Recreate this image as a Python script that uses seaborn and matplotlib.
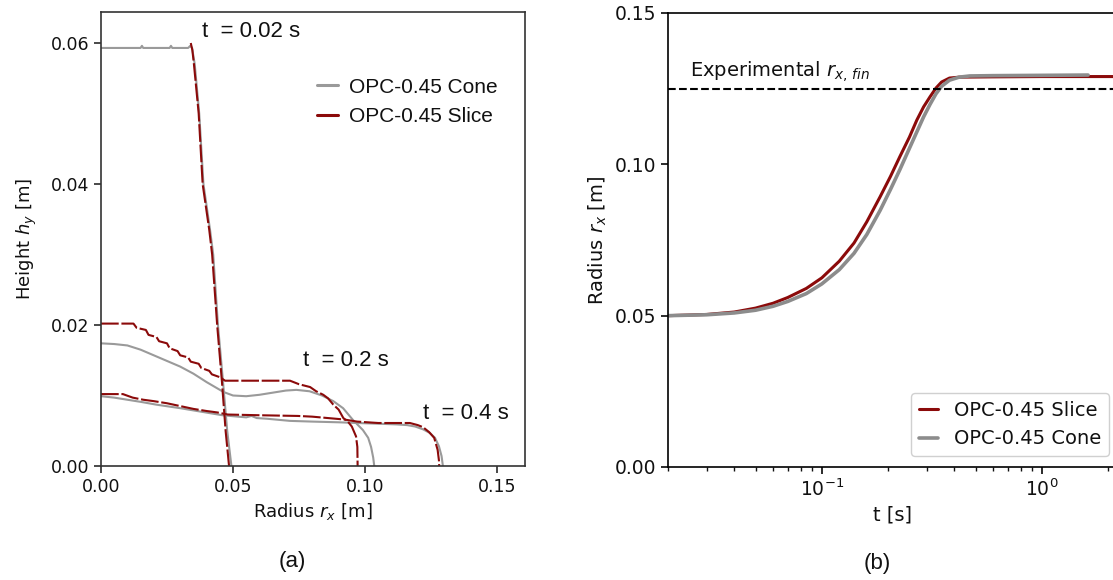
import numpy as np
import pandas as pd
import seaborn as sns
import matplotlib.pyplot as plt

# --- (a) free-surface profiles, radius r_x [m] vs height h_y [m] ---
cone_002_r = [0.000, 0.015, 0.0155, 0.016, 0.026, 0.0265, 0.027, 0.033, 0.0338, 0.0345,
              0.0355, 0.0372, 0.0388, 0.0413, 0.0425, 0.0443, 0.0462, 0.0478, 0.0494]
cone_002_h = [0.0593, 0.0593, 0.0596, 0.0593, 0.0593, 0.0596, 0.0593, 0.0593, 0.0596, 0.0593,
              0.0570, 0.0500, 0.0400, 0.0335, 0.0300, 0.0200, 0.0120, 0.0050, 0.0000]
slice_002_r = [0.0340, 0.0346, 0.0352, 0.0370, 0.0385, 0.0410, 0.0421, 0.0440, 0.0458, 0.0472, 0.0485]
slice_002_h = [0.0600, 0.0590, 0.0570, 0.0500, 0.0400, 0.0335, 0.0300, 0.0200, 0.0120, 0.0050, 0.0000]

cone_02_r = [0.000, 0.005, 0.010, 0.015, 0.020, 0.025, 0.030, 0.035, 0.040, 0.0464, 0.050, 0.055, 0.060,
             0.065, 0.070, 0.074, 0.079, 0.0837, 0.0880, 0.0917, 0.0955, 0.0992, 0.1012, 0.1023, 0.1031, 0.1035]
cone_02_h = [0.0174, 0.0173, 0.0171, 0.0165, 0.0157, 0.0149, 0.0141, 0.0131, 0.0119, 0.0105, 0.0100, 0.0099,
             0.0101, 0.0104, 0.0107, 0.0108, 0.0106, 0.0100, 0.0092, 0.0082, 0.0065, 0.0051, 0.0040, 0.0027,
             0.0012, 0.0000]
slice_02_r = [0.000, 0.0123, 0.0135, 0.017, 0.018, 0.021, 0.022, 0.025, 0.026, 0.029, 0.030, 0.033, 0.034,
              0.037, 0.038, 0.041, 0.042, 0.045, 0.047, 0.0716, 0.0750, 0.0792, 0.0815, 0.0842, 0.086, 0.088,
              0.0900, 0.0918, 0.0935, 0.0950, 0.0966, 0.0971, 0.0972]
slice_02_h = [0.0202, 0.0202, 0.0196, 0.0193, 0.0186, 0.0183, 0.0177, 0.0174, 0.0167, 0.0163, 0.0157, 0.0154,
              0.0148, 0.0145, 0.0139, 0.0135, 0.0130, 0.0126, 0.0121, 0.0121, 0.0116, 0.0112, 0.0106, 0.0101,
              0.0096, 0.0087, 0.0080, 0.0068, 0.0063, 0.0056, 0.0042, 0.0027, 0.0000]

cone_04_r = [0.000, 0.005, 0.010, 0.015, 0.021, 0.030, 0.038, 0.046, 0.055, 0.057, 0.059, 0.063, 0.0716, 0.080,
             0.090, 0.097, 0.105, 0.112, 0.116, 0.119, 0.122, 0.1245, 0.1265, 0.128, 0.129, 0.1295]
cone_04_h = [0.0099, 0.0097, 0.0094, 0.0091, 0.0087, 0.0082, 0.0077, 0.0072, 0.0069, 0.0071, 0.0068, 0.0067,
             0.0064, 0.0063, 0.0062, 0.0061, 0.0060, 0.0059, 0.0058, 0.0056, 0.0052, 0.0047, 0.0040, 0.0028,
             0.0014, 0.0000]
slice_04_r = [0.000, 0.0083, 0.012, 0.016, 0.020, 0.025, 0.030, 0.035, 0.040, 0.044, 0.048, 0.060, 0.0746,
              0.080, 0.086, 0.092, 0.097, 0.105, 0.117, 0.120, 0.122, 0.1243, 0.1262, 0.1275, 0.128, 0.1281]
slice_04_h = [0.0102, 0.0102, 0.0097, 0.0094, 0.0092, 0.0089, 0.0085, 0.0081, 0.0078, 0.0076, 0.0073, 0.0072,
              0.0071, 0.0070, 0.0068, 0.0066, 0.0063, 0.0061, 0.0061, 0.0058, 0.0055, 0.0048, 0.0040, 0.0023,
              0.0008, 0.0000]

# --- (b) spread radius vs time ---
t_slice = [0.02, 0.03, 0.04, 0.05, 0.06, 0.07, 0.085, 0.10, 0.12, 0.14, 0.16, 0.184, 0.205, 0.226, 0.25,
           0.27, 0.29, 0.31, 0.33, 0.35, 0.38, 0.42, 0.60, 1.0, 1.5, 2.3]
r_slice = [0.0500, 0.0504, 0.0512, 0.0525, 0.0541, 0.0560, 0.0590, 0.0625, 0.0680, 0.0740, 0.0810, 0.0893,
           0.0960, 0.1025, 0.1090, 0.1146, 0.1190, 0.1223, 0.1252, 0.1272, 0.1285, 0.1288, 0.1289, 0.1290,
           0.1290, 0.1290]
t_cone = [0.02, 0.03, 0.04, 0.05, 0.06, 0.07, 0.085, 0.10, 0.12, 0.14, 0.16, 0.184, 0.205, 0.226, 0.25,
          0.27, 0.29, 0.31, 0.33, 0.35, 0.38, 0.42, 0.47, 0.60, 1.0, 1.62]
r_cone = [0.0500, 0.0503, 0.0509, 0.0518, 0.0531, 0.0547, 0.0573, 0.0605, 0.0652, 0.0706, 0.0768, 0.0848,
          0.0917, 0.0982, 0.1053, 0.1107, 0.1157, 0.1198, 0.1233, 0.1258, 0.1278, 0.1288, 0.1292, 0.1293,
          0.1294, 0.1295]
r_exp = 0.125

RED = '#8b0a0a'
sns.set_theme(style='ticks')
plt.rcParams['font.family'] = ['DejaVu Sans']
plt.rcParams.update({'text.color': '#111111', 'axes.labelcolor': '#111111',
                     'xtick.color': '#111111', 'ytick.color': '#111111'})

fig = plt.figure(figsize=(11.13, 5.8), dpi=100)
W, H = 1113, 580
ax1 = fig.add_axes([101 / W, 1 - 466 / H, 424 / W, 454 / H])
ax2 = fig.add_axes([668 / W, 1 - 467 / H, 448 / W, 454 / H])

# panel (a)
profiles = [
    (cone_002_r, cone_002_h, slice_002_r, slice_002_h),
    (cone_02_r, cone_02_h, slice_02_r, slice_02_h),
    (cone_04_r, cone_04_h, slice_04_r, slice_04_h),
]
for i, (cr, ch, sr, sh) in enumerate(profiles):
    sns.lineplot(x=cr, y=ch, ax=ax1, sort=False, estimator=None, color='#9a9a9a', lw=1.5,
                 label='OPC-0.45 Cone' if i == 0 else None)
for i, (cr, ch, sr, sh) in enumerate(profiles):
    sns.lineplot(x=sr, y=sh, ax=ax1, sort=False, estimator=None, color=RED, lw=1.5,
                 linestyle=(0, (8.5, 1.3)), label='OPC-0.45 Slice' if i == 0 else None)

ax1.set_xlim(0, 0.1606)
ax1.set_ylim(0, 0.0644)
ax1.set_xticks([0, 0.05, 0.10, 0.15])
ax1.set_yticks([0, 0.02, 0.04, 0.06])
ax1.tick_params(labelsize=12.5, length=5, color='#333333')
for s in ax1.spines.values():
    s.set_color('#333333')
    s.set_linewidth(1.2)
ax1.set_xlabel('Radius $r_x$ [m]', fontsize=13)
ax1.set_ylabel('Height $h_y$ [m]', fontsize=13, labelpad=8)

arial = ['Liberation Sans', 'DejaVu Sans']
ax1.text(0.0383, 0.0616, 't  = 0.02 s', fontsize=16, family=arial, va='center')
ax1.text(0.0765, 0.0150, 't  = 0.2 s', fontsize=16, family=arial, va='center')
ax1.text(0.1220, 0.0075, 't  = 0.4 s', fontsize=16, family=arial, va='center')

leg1 = ax1.legend(loc='upper right', bbox_to_anchor=(0.955, 0.874), borderaxespad=0,
                  frameon=False, handlelength=1.0, handletextpad=0.55,
                  prop={'family': arial, 'size': 15})
leg1.legend_handles[1].set_linestyle('-')
leg1.legend_handles[1].set_linewidth(2.2)
leg1.legend_handles[0].set_linewidth(2.2)

# panel (b)
sns.lineplot(x=t_slice, y=r_slice, ax=ax2, color=RED, lw=2.2, label='OPC-0.45 Slice')
sns.lineplot(x=t_cone, y=r_cone, ax=ax2, color='#8c8c8c', lw=2.6, label='OPC-0.45 Cone')
ax2.axhline(r_exp, color='black', ls='--', lw=1.5)
ax2.text(0.0251, 0.1305, 'Experimental $r_{x,\\,fin}$', fontsize=14, va='center')
ax2.set_xscale('log')
ax2.set_xlim(0.02, 10 ** (-1.7 + 448 / 220))
ax2.set_ylim(0, 0.15)
ax2.set_yticks([0, 0.05, 0.10, 0.15])
ax2.tick_params(labelsize=13.5, length=5)
ax2.tick_params(which='minor', length=3)
for s in ax2.spines.values():
    s.set_color('black')
    s.set_linewidth(1.2)
ax2.set_xlabel('t [s]', fontsize=14)
ax2.set_ylabel('Radius $r_x$ [m]', fontsize=14)
ax2.legend(loc='lower right', bbox_to_anchor=(0.984, 0.024), borderaxespad=0,
           handlelength=1.0, fontsize=14, framealpha=1, edgecolor='#d0d0d0')

fig.text(292 / W, 1 - 562 / H, '(a)', fontsize=16, family=arial, ha='center', va='center')
fig.text(877 / W, 1 - 563 / H, '(b)', fontsize=16, family=arial, ha='center', va='center')

fig.savefig('out.png', dpi=100)
